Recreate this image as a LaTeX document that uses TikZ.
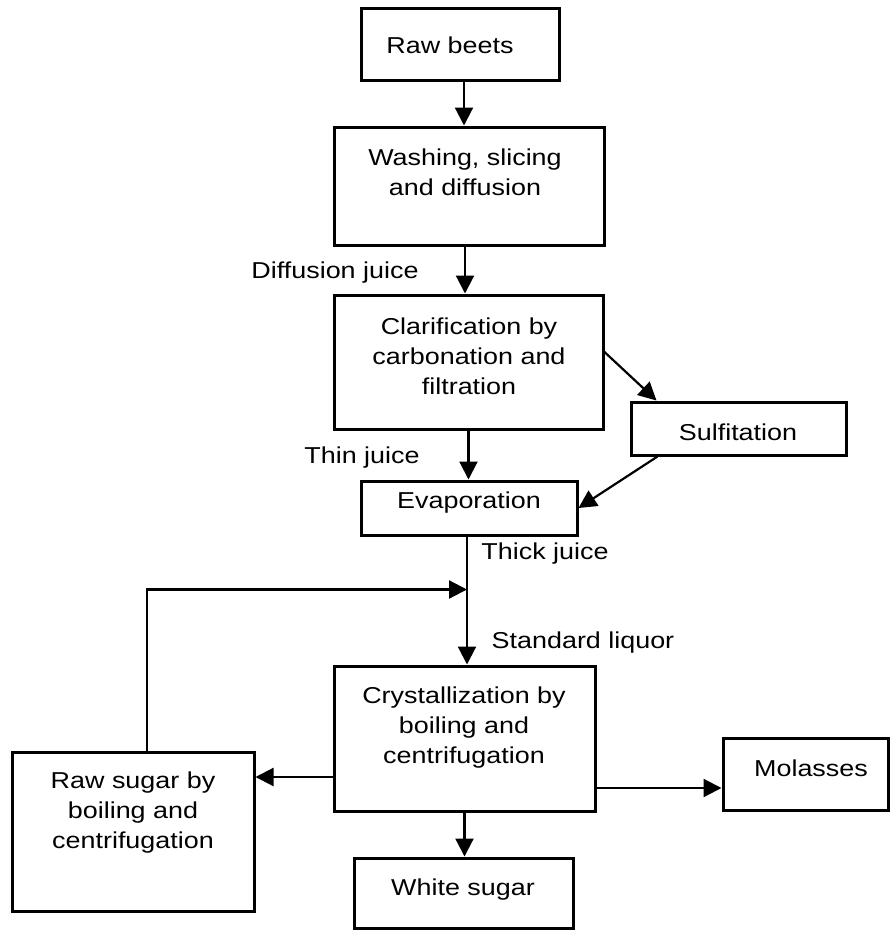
\documentclass[tikz,border=0pt]{standalone}
\usepackage{fontspec}
\setmainfont[FakeStretch=1.17]{Liberation Sans}
\usetikzlibrary{arrows.meta}
\begin{document}
\begin{tikzpicture}[x=1pt,y=-1pt,
  box/.style={draw, line width=3pt, inner sep=0pt},
  txt/.style={font=\fontsize{23}{30}\selectfont, align=center, inner sep=0pt},
  arr/.style={line width=2.2pt, -{Triangle[length=18pt,width=18pt]}},
  wire/.style={line width=2.2pt}]
\useasboundingbox (0,0) rectangle (891,930);

% process boxes
\node[box, minimum width=198pt, minimum height=72pt]  (beets) at (460,44) {};
\node[box, minimum width=270pt, minimum height=118pt] (wash)  at (469,186) {};
\node[box, minimum width=269pt, minimum height=134pt] (clar)  at (468.5,362) {};
\node[box, minimum width=215pt, minimum height=53pt]  (sulf)  at (738.5,428.5) {};
\node[box, minimum width=216pt, minimum height=54pt]  (evap)  at (469,508) {};
\node[box, minimum width=261pt, minimum height=145pt] (cryst) at (464.5,738.5) {};
\node[box, minimum width=242pt, minimum height=159pt] (raws)  at (133,831.5) {};
\node[box, minimum width=165pt, minimum height=72pt]  (mol)   at (805.5,774) {};
\node[box, minimum width=219pt, minimum height=70pt]  (white) at (463.5,893) {};

% box texts
\node[txt] (t-beets) at (450,45)  {Raw beets};
\node[txt] (t-wash)  at (465,172) {Washing, slicing\\and diffusion};
\node[txt] (t-clar)  at (469,356) {Clarification by\\carbonation and\\filtration};
\node[txt] (t-sulf)  at (738,432) {Sulfitation};
\node[txt] (t-evap)  at (469,503) {Evaporation};
\node[txt] (t-cryst) at (464,728) {Crystallization by\\boiling and\\centrifugation};
\node[txt] (t-raws)  at (133,813) {Raw sugar by\\boiling and\\centrifugation};
\node[txt] (t-mol)   at (811,768) {Molasses};
\node[txt] (t-white) at (463,890) {White sugar};

% stream labels
\node[txt] (l-diff)  at (335,273) {Diffusion juice};
\node[txt] (l-thin)  at (362,458) {Thin juice};
\node[txt] (l-thick) at (545,554) {Thick juice};
\node[txt] (l-std)   at (583,643) {Standard liquor};

% main flow
\draw[arr] ([xshift=4pt]beets.south) -- ([xshift=4pt]beets.south |- wash.north);
\draw[arr] ([xshift=-4pt]wash.south) -- ([xshift=-4pt]wash.south |- clar.north);
\draw[arr] (clar.south) -- (clar.south |- evap.north);
\draw[arr] ([yshift=10pt]clar.east) -- ([xshift=-82pt]sulf.north);
\draw[arr] ([xshift=-81pt]sulf.south) -- (evap.east);
\draw[arr] ([xshift=-2pt]evap.south) -- ([xshift=-2pt]evap.south |- cryst.north);

% recycle of raw sugar into the liquor
\coordinate (merge) at ([xshift=-2pt,yshift=-53pt]evap.south);
\draw[arr] ([xshift=14pt]raws.north) |- (merge);

% outputs of crystallization
\draw[arr] ([yshift=-38.5pt]cryst.west) -- ([yshift=-38.5pt]cryst.west -| raws.east);
\draw[arr] ([yshift=-49.5pt]cryst.east) -- ([yshift=-49.5pt]cryst.east -| mol.west);
\draw[arr] (cryst.south) -- (cryst.south |- white.north);
\end{tikzpicture}
\end{document}
